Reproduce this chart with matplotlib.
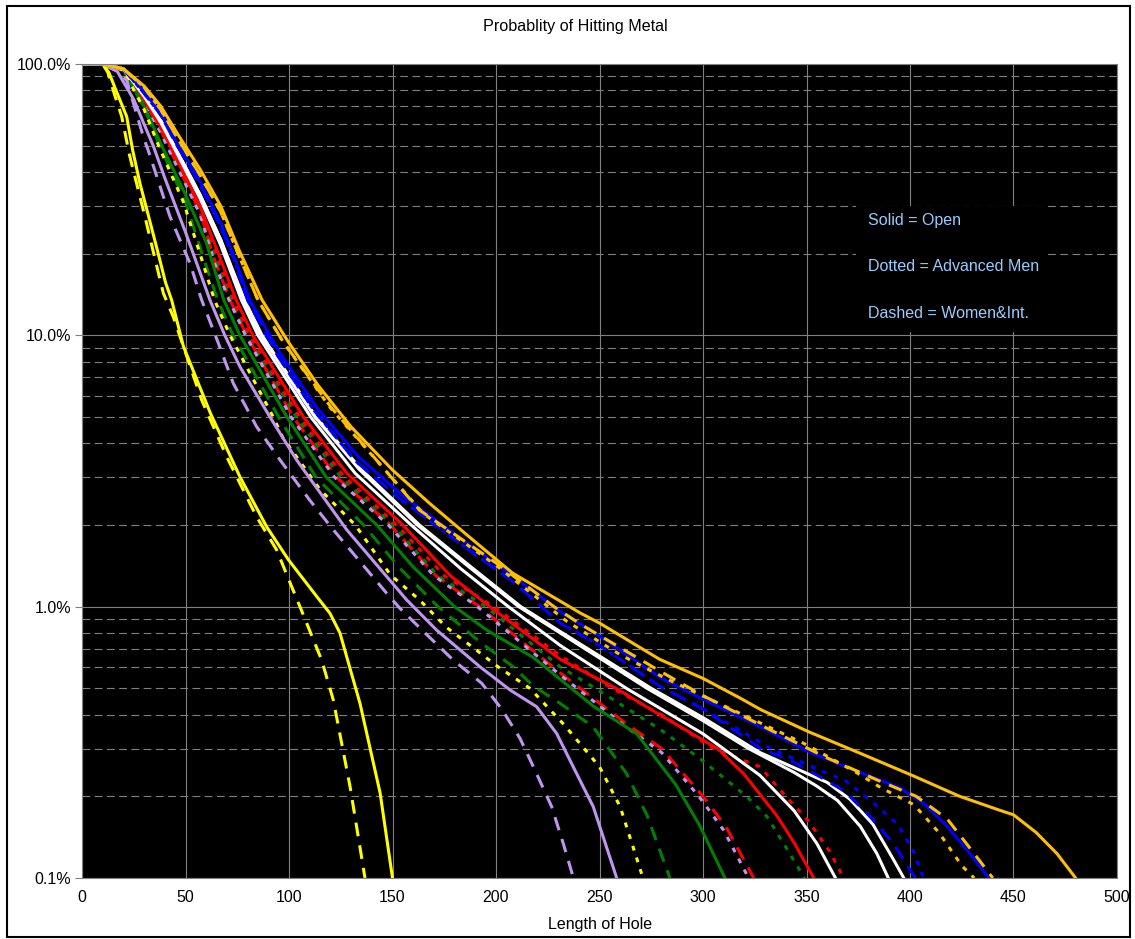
import matplotlib.pyplot as plt
from matplotlib.patches import Rectangle
from matplotlib.ticker import FixedLocator, NullFormatter

plt.rcParams['font.family'] = ['Liberation Sans', 'DejaVu Sans']

# (length of hole, probability %)
GOLD_SOLID = [(0, 100), (10, 100), (20, 96), (30, 83), (38, 70), (47, 54), (57, 41), (67, 30), (76, 20.5),
              (87, 13.5), (99.5, 9.5), (114, 6.55), (130, 4.6), (150, 3.19), (168, 2.4), (187, 1.81),
              (208, 1.33), (241, 0.945), (250, 0.87), (279, 0.64), (300, 0.544), (318, 0.46), (328, 0.417),
              (351, 0.346), (376, 0.288), (401, 0.239), (424, 0.2), (444, 0.177), (450, 0.171),
              (461, 0.147), (471, 0.123), (480, 0.1)]
GOLD_DASH = [(0, 100), (10, 100), (20, 96), (30, 82), (38, 68), (47, 52), (57, 39), (67, 28.5), (76, 19.5),
             (85, 13.5), (97, 9.5), (120, 5.47), (163, 2.27), (200, 1.45), (215, 1.19), (228, 1.0),
             (241, 0.86), (279, 0.58), (300, 0.47), (332, 0.353), (360, 0.277), (384, 0.23), (403, 0.2),
             (418, 0.165), (431, 0.123), (440, 0.1)]
GOLD_DOT = [(0, 100), (10, 100), (20, 96), (30, 82), (38, 68), (47, 52), (57, 39), (67, 28.5), (76, 19.5),
            (85, 13.5), (97, 9.5), (120, 5.4), (165, 2.2), (200, 1.42), (234, 0.885), (260, 0.665),
            (282, 0.544), (350, 0.31), (374, 0.245), (386, 0.215), (402, 0.186), (414, 0.147),
            (425, 0.111), (431, 0.1)]
BLUE_SOLID = [(0, 100), (10, 100), (20, 96), (30, 79), (38, 66), (46.5, 50), (57, 37), (67, 26), (73, 20),
              (81, 13.5), (95.7, 8.58), (113, 5.47), (133, 3.6), (155, 2.56), (184, 1.76), (208, 1.3),
              (231, 0.96), (250, 0.78), (279, 0.55), (299, 0.46), (328, 0.36), (350, 0.295), (373, 0.25),
              (395, 0.215), (406, 0.19), (418, 0.155), (429, 0.123), (438, 0.1)]
BLUE_DASH = [(0, 100), (10, 100), (20, 96), (30, 78), (38, 65), (46, 50), (57, 36), (67, 25), (73, 19.5),
             (80, 13.5), (95, 8.3), (112, 5.3), (132, 3.45), (155, 2.45), (184, 1.68), (208, 1.24),
             (231, 0.87), (250, 0.72), (279, 0.51), (300, 0.42), (328, 0.3), (342, 0.272), (357, 0.235),
             (368, 0.21), (381, 0.168), (392, 0.134), (402.5, 0.1)]
BLUE_DOT = [(0, 100), (10, 100), (20, 96), (30, 78), (38, 65), (46, 50), (57, 36), (67, 25), (73, 19.5),
            (80, 13.5), (95, 8.3), (112, 5.3), (132, 3.45), (155, 2.45), (184, 1.68), (208, 1.24),
            (231, 0.87), (250, 0.72), (279, 0.51), (300, 0.42), (333, 0.3), (360, 0.243), (369, 0.228),
            (382, 0.19), (394, 0.158), (401.5, 0.126), (406.5, 0.1)]
WHITE_A = [(0, 100), (10, 100), (20, 96), (30, 77), (38, 62), (44.5, 50), (57, 33), (67, 22.5), (78.5, 13.5),
           (87, 10), (113, 5), (135, 3.2), (163, 2), (188, 1.4), (212, 1.0), (231, 0.81), (275, 0.5),
           (300, 0.39), (327.5, 0.29), (344, 0.255), (360, 0.225), (371, 0.195), (382, 0.158), (392, 0.117),
           (397, 0.1)]
WHITE_B = [(0, 100), (10, 100), (20, 96), (30, 77), (38, 62), (44.5, 50), (57, 33), (67, 22.5), (78, 13.5),
           (86.5, 10), (112.5, 5), (134, 3.2), (162, 2), (187, 1.4), (211, 1.0), (231, 0.8), (273, 0.5),
           (300, 0.38), (322, 0.3), (344, 0.245), (355, 0.218), (365, 0.193), (376, 0.155), (384, 0.123),
           (389.5, 0.1)]
WHITE_C = [(0, 100), (10, 100), (20, 96), (30, 76), (38, 61), (44, 50), (57, 32), (67, 21.5), (77, 13.5),
           (85, 10), (110.5, 5), (132, 3.1), (159, 2), (183, 1.38), (206, 1.0), (231, 0.72), (263, 0.5),
           (300, 0.34), (327.5, 0.239), (344, 0.177), (355, 0.134), (364, 0.1)]
RED_SOLID = [(0, 100), (10, 100), (20, 96), (30, 74), (38, 59), (42.5, 50), (57, 30), (67, 19), (74.5, 13.5),
             (82.5, 10), (107, 5), (128, 3.1), (155, 2), (178, 1.3), (197, 1.0), (231, 0.64), (258, 0.5),
             (279, 0.4), (307, 0.3), (319.5, 0.243), (335.6, 0.17), (344, 0.135), (353.5, 0.1)]
RED_DASH = [(0, 100), (10, 100), (20, 96), (30, 73), (38, 57), (41.5, 50), (57, 28.5), (64, 19), (71.5, 13.5),
            (79.5, 10), (102, 5), (123, 3), (149, 2), (171, 1.3), (192, 1.0), (231, 0.57), (263, 0.37),
            (280, 0.3), (300, 0.2), (311, 0.155), (324.5, 0.1)]
RED_DOT = [(0, 100), (10, 100), (20, 96), (30, 74), (38, 58), (43, 50), (57, 29.5), (66, 19), (73, 13.5),
           (81, 10), (105, 5), (126, 3.05), (152, 2), (175, 1.3), (199, 1.0), (231, 0.66), (256, 0.5),
           (280, 0.4), (305, 0.3), (327.5, 0.257), (340, 0.2), (351, 0.162), (361, 0.126), (368, 0.1)]
LAV_DOT = [(0, 100), (10, 100), (20, 95), (30, 72), (38, 56), (41, 50), (57, 28), (64, 18.5), (71, 13.5),
           (79, 10), (101, 5), (122, 3), (148, 2), (170, 1.3), (191, 1.0), (231, 0.56), (263, 0.36),
           (280, 0.29), (298, 0.2), (310, 0.15), (322, 0.1)]
GREEN_DOT = [(0, 100), (10, 100), (20, 96), (30, 72), (38, 56), (41.5, 50), (57, 28), (65, 19), (72, 13.5),
             (80, 10), (103.5, 5), (125, 3), (150, 2), (172, 1.3), (195, 1.0), (231, 0.6), (248, 0.5),
             (280, 0.35), (300, 0.27), (321, 0.2), (331, 0.168), (340, 0.13), (349, 0.1)]
GREEN_SOLID = [(0, 100), (10, 100), (20, 95), (30, 70), (38.5, 50), (50, 33), (60, 22), (68.5, 13.5),
               (76.3, 10), (99, 5), (118, 3), (142.4, 2), (160, 1.4), (180, 1.0), (195.5, 0.82), (218, 0.65),
               (231, 0.54), (247, 0.43), (268, 0.34), (287, 0.22), (298.6, 0.155), (310.6, 0.1)]
GREEN_DASH = [(0, 100), (10, 100), (20, 95), (30, 69), (37.5, 50), (50, 31), (58, 20), (65.5, 13.5), (73, 10),
              (95, 5), (113, 3), (136, 2), (153, 1.4), (172, 1.0), (192.3, 0.74), (208.4, 0.6), (218, 0.51),
              (231, 0.44), (247, 0.36), (263, 0.243), (273, 0.17), (284, 0.1)]
YEL_DOT = [(0, 100), (10, 100), (20, 95), (30, 68), (37, 50), (49, 31), (57, 20), (64, 13.5), (71.5, 10),
           (92.4, 5), (97, 4.2), (115, 2.7), (132, 2), (149, 1.31), (163, 1.06), (176, 0.84), (190.7, 0.69),
           (201, 0.6), (216.4, 0.5), (232.5, 0.37), (250, 0.257), (260, 0.183), (271, 0.1)]
LAV_SOLID = [(0, 100), (10, 100), (17, 94), (25, 74), (30, 60), (34.4, 50), (40, 38), (50, 24), (61.8, 13.5),
             (69, 10), (76.3, 7.66), (90.8, 5.0), (103.7, 3.47), (127.9, 1.92), (156.8, 1.06), (171.3, 0.82),
             (192.3, 0.6), (206.8, 0.493), (219.6, 0.428), (229.3, 0.341), (237.3, 0.257), (247, 0.183),
             (258.3, 0.1)]
LAV_DASH = [(0, 100), (10, 100), (17, 94), (21.6, 87), (29.6, 54), (32, 48), (42.5, 27.4), (52.2, 18.4),
            (57.8, 13.5), (65.9, 9.34), (73.1, 6.65), (84.4, 4.6), (95.7, 3.47), (110, 2.47), (121.4, 1.92),
            (147.2, 1.12), (153.6, 0.986), (165.7, 0.8), (179.4, 0.635), (193.1, 0.522), (202.7, 0.42),
            (211.6, 0.327), (218.8, 0.25), (226.9, 0.183), (232.5, 0.134), (237.4, 0.1)]
YEL_SOLID = [(0, 100), (10, 100), (13, 93), (17, 78), (21.6, 64), (24.5, 48), (28, 36.3), (32.2, 27.4),
             (36.4, 20.6), (40.4, 15.6), (43.3, 13.5), (49, 9.1), (62, 5.17), (76.3, 3.01), (89.2, 1.97),
             (99.7, 1.49), (113.4, 1.09), (119.8, 0.945), (124.6, 0.8), (134.3, 0.44), (144, 0.206), (150, 0.1)]
YEL_DASH = [(0, 100), (10, 100), (12.5, 93), (16, 76), (19.2, 64), (23, 46), (26.5, 36), (30.4, 27.4),
            (35, 19.5), (39.3, 14.3), (44.1, 11.7), (57.8, 5.78), (69.9, 3.57), (84.4, 2.14), (94, 1.62),
            (102, 1.15), (106, 0.97), (115.8, 0.635), (121.4, 0.453), (129.5, 0.217), (136.7, 0.1)]

X_TICKS = list(range(0, 501, 50))
Y_TICKS = [0.1, 1, 10, 100]
Y_LABELS = ['0.1%', '1.0%', '10.0%', '100.0%']
NOTES = ['Solid = Open', 'Dotted = Advanced Men', 'Dashed = Women&Int.']

YELLOW, LAV, GREEN, RED, WHITE, BLUE, GOLD = '#FFFF00', '#C095F0', '#008000', '#FF0000', '#FFFFFF', '#0000FF', '#FFC000'
SOLID, DOT, DASH = '-', (0, (1.6, 2.4)), (0, (4.5, 3))

series = [
    (RED_DASH, RED, DASH), (GREEN_DOT, GREEN, DOT), (LAV_DOT, LAV, DOT), (RED_DOT, RED, DOT),
    (RED_SOLID, RED, SOLID), (GREEN_SOLID, GREEN, SOLID), (GREEN_DASH, GREEN, DASH),
    (YEL_DOT, YELLOW, DOT), (LAV_SOLID, LAV, SOLID), (LAV_DASH, LAV, DASH),
    (YEL_SOLID, YELLOW, SOLID), (YEL_DASH, YELLOW, DASH),
    (WHITE_C, WHITE, SOLID), (WHITE_B, WHITE, SOLID), (WHITE_A, WHITE, SOLID),
    (BLUE_DASH, BLUE, DASH), (BLUE_DOT, BLUE, DOT), (BLUE_SOLID, BLUE, SOLID),
    (GOLD_DOT, GOLD, DOT), (GOLD_DASH, GOLD, DASH), (GOLD_SOLID, GOLD, SOLID),
]

W, H = 1135, 939
fig = plt.figure(figsize=(W / 100, H / 100), dpi=100)
ax = fig.add_axes([82 / W, (H - 878) / H, 1035 / W, 814 / H])
ax.set_facecolor('black')

for pts, color, ls in series:
    x, y = zip(*pts)
    ax.plot(x, y, color=color, lw=2.2, linestyle=ls, dash_capstyle='butt', solid_joinstyle='round')

ax.set_yscale('log')
ax.set_xlim(0, 500)
ax.set_ylim(0.1, 100)
ax.set_xticks(X_TICKS)
ax.set_yticks(Y_TICKS)
ax.set_yticklabels(Y_LABELS)
ax.yaxis.set_minor_locator(FixedLocator([m * d for d in (0.1, 1, 10) for m in range(2, 10)]))
ax.yaxis.set_minor_formatter(NullFormatter())
ax.tick_params(axis='y', which='minor', length=0)
ax.tick_params(axis='y', which='major', length=5, color='#808080', labelsize=11.5, pad=3)
ax.tick_params(axis='x', length=0, labelsize=11.5, pad=9)
ax.grid(True, which='major', color='#808080', lw=0.8)
ax.grid(True, which='minor', axis='y', color='#808080', lw=0.8, linestyle=(0, (7, 4)))
ax.set_axisbelow(True)
for s in ax.spines.values():
    s.set_color('#808080')

# black box behind the notes hides the grid
ax.add_patch(Rectangle((0.748, 0.671), 0.185, 0.155, transform=ax.transAxes,
                       facecolor='black', edgecolor='none', zorder=1))
for txt, yy in zip(NOTES, [0.808, 0.751, 0.694]):
    ax.text(0.759, yy, txt, transform=ax.transAxes, color='#99CCFF', fontsize=11.5, va='center', zorder=3)

fig.text(575 / W, 1 - 27 / H, 'Probablity of Hitting Metal', ha='center', va='center', fontsize=11.6)
fig.text(600 / W, 1 - 925 / H, 'Length of Hole', ha='center', va='center', fontsize=11.5)
fig.add_artist(Rectangle((7 / W, 2 / H), 1123 / W, 931 / H, transform=fig.transFigure,
                         fill=False, edgecolor='black', lw=1.5))

fig.savefig('out.png', dpi=100, facecolor='white')
